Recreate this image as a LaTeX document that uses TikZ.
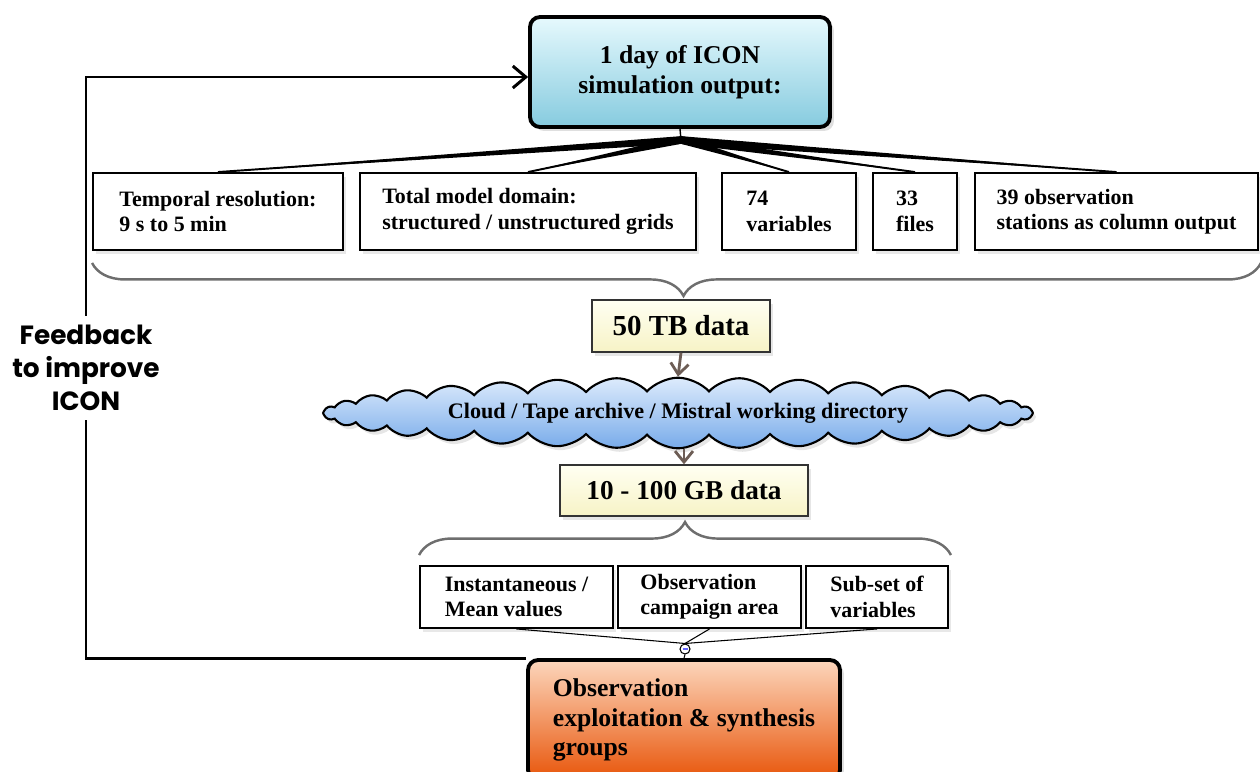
\documentclass[tikz,border=0pt]{standalone}
\usepackage{fontspec}
\setmainfont{Liberation Serif}
\newfontfamily\fbfont{Poppins}
\usepackage{tikz}
\usetikzlibrary{positioning, shapes.symbols, shadows, decorations.pathreplacing, arrows.meta, calc}
\definecolor{simtop}{HTML}{E6F9FD}
\definecolor{simbot}{HTML}{86CBDF}
\definecolor{datatop}{HTML}{FFFFF2}
\definecolor{databot}{HTML}{F7F3C6}
\definecolor{cloudtop}{HTML}{DDEBFC}
\definecolor{cloudbot}{HTML}{78ABEA}
\definecolor{grptop}{HTML}{FCD6BC}
\definecolor{grpbot}{HTML}{E8550A}
\definecolor{flowgray}{HTML}{6D5D55}
\definecolor{bracegray}{HTML}{6E6E6E}
\tikzstyle{mainbox} = [rectangle, rounded corners=0.2cm,
line width=2.2pt,
draw=black,
align=left,
drop shadow={opacity=0.25, shadow xshift=0.8mm, shadow yshift=-0.8mm},
font=\bfseries\fontsize{14.6}{17}\selectfont]
\tikzstyle{itembox} = [rectangle,
draw=black,
line width=1.1pt,
fill=white,
align=left,
drop shadow={opacity=0.18, shadow xshift=0.6mm, shadow yshift=-0.8mm},
font=\bfseries\fontsize{12.5}{14.5}\selectfont]
\tikzstyle{databox} = [rectangle,
draw=black!80,
line width=0.8pt,
top color=datatop, bottom color=databot,
drop shadow={opacity=0.2, shadow xshift=0.6mm, shadow yshift=-0.8mm},
text centered]
\tikzstyle{cloudbox} = [cloud, cloud puffs=36, cloud puff arc=95,
cloud ignores aspect,
minimum width=14.2cm,
minimum height=0.75cm,
draw=black,
line width=1.2pt,
top color=cloudtop, bottom color=cloudbot,
drop shadow={opacity=0.2, shadow xshift=0.6mm, shadow yshift=-0.8mm},
font=\bfseries\fontsize{12.6}{15}\selectfont]
\tikzstyle{arrow} = [line width=1.6pt, draw=flowgray, -{Straight Barb[length=2.2mm, width=3.6mm]}]
\tikzstyle{feedline} = [line width=1.7pt, draw=black]
\tikzstyle{bracket} = [decorate, line width=1.4pt, draw=bracegray]

\begin{document}
\begin{tikzpicture}[x=0.02cm, y=-0.02cm]
        \useasboundingbox (0,0) rectangle (1260,771);
        % top and bottom boxes
        \node (sim) [mainbox, top color=simtop, bottom color=simbot, minimum width=6cm, minimum height=2.2cm, align=center] at (680,72) {1 day of ICON\\simulation output:};
        \node (groups) [mainbox, top color=grptop, bottom color=grpbot, minimum width=6.24cm, minimum height=2.4cm] at (684,720) {Observation\\exploitation \& synthesis\\groups};

        % row of properties
        \node (temporal) [itembox, minimum width=5cm, minimum height=1.54cm] at (218,211.5) {Temporal resolution:\\9 s to 5 min};
        \node (domain) [itembox, minimum width=6.72cm, minimum height=1.54cm] at (528,211.5) {Total model domain:\\structured / unstructured grids};
        \node (vars) [itembox, minimum width=2.68cm, minimum height=1.54cm] at (789,211.5) {74\\variables};
        \node (files) [itembox, minimum width=1.68cm, minimum height=1.54cm] at (915,211.5) {33\\files};
        \node (stations) [itembox, minimum width=5.66cm, minimum height=1.54cm] at (1116.5,211.5) {39 observation\\stations as column output};

        \coordinate (fan) at (681,140);
        \draw [line width=0.8pt] (sim.south) -- (fan);
        \foreach \item in {temporal, domain, vars, files, stations}
        {
            \fill ([yshift=2.2pt]fan) -- (\item.north) -- ([yshift=-2.2pt]fan) -- cycle;
            \draw [line width=1.1pt] (fan) -- (\item.north);
        }
        \draw [bracket, decoration={brace, amplitude=0.66cm, aspect=0.494}] ($(stations.south east)+(2,12)$) -- ($(temporal.south west)+(0,12)$);

        % data flow
        \node (tb) [databox, minimum width=3.56cm, minimum height=1.04cm, font=\bfseries\fontsize{16.5}{19}\selectfont] at (681,326) {50 TB data};
        \node (archive) [cloudbox] at (678,413) {Cloud / Tape archive / Mistral working directory};
        \node (gb) [databox, minimum width=4.96cm, minimum height=1.02cm, font=\bfseries\fontsize{15.5}{18}\selectfont] at (684,490.5) {10 - 100 GB data};
        \draw [arrow] (tb.south) -- (archive.north);
        \draw [arrow] (archive.south -| gb.north) -- (gb.north);

        % selection
        \node (instant) [itembox, minimum width=3.86cm, minimum height=1.24cm] at (516.5,597) {Instantaneous /\\Mean values};
        \node (campaign) [itembox, minimum width=3.66cm, minimum height=1.24cm] at (709.5,597) {Observation\\campaign area};
        \node (subset) [itembox, minimum width=2.84cm, minimum height=1.24cm] at (877,597) {Sub-set of\\variables};
        \draw [bracket, decoration={brace, amplitude=0.66cm, aspect=0.5}] ($(instant.north west)+(0,-10)$) -- ($(subset.north east)+(2,-10)$);

        \node (join) [circle, draw, line width=0.6pt, fill=white, minimum size=0.2cm, inner sep=0pt] at (685,649) {};
        \draw [blue!60, line width=0.6pt] ([xshift=-0.05cm]join.center) -- ([xshift=0.05cm]join.center);
        \foreach \item in {instant, campaign, subset}
            \draw [line width=0.6pt] (\item.south) -- (join.north);
        \draw [line width=0.6pt] (join.south) -- (groups.north);

        % feedback loop
        \node (fbtext) [align=center, inner ysep=5pt, font=\fbfont\bfseries\fontsize{15}{18.8}\selectfont] at (86,368) {Feedback\\to improve\\ICON};
        \draw [feedline] (groups.north west) -| (fbtext.south);
        \draw [feedline, -{Straight Barb[length=2.6mm, width=4.4mm]}] (fbtext.north) |- ([yshift=-0.1cm]sim.west);
    \end{tikzpicture}
\end{document}
